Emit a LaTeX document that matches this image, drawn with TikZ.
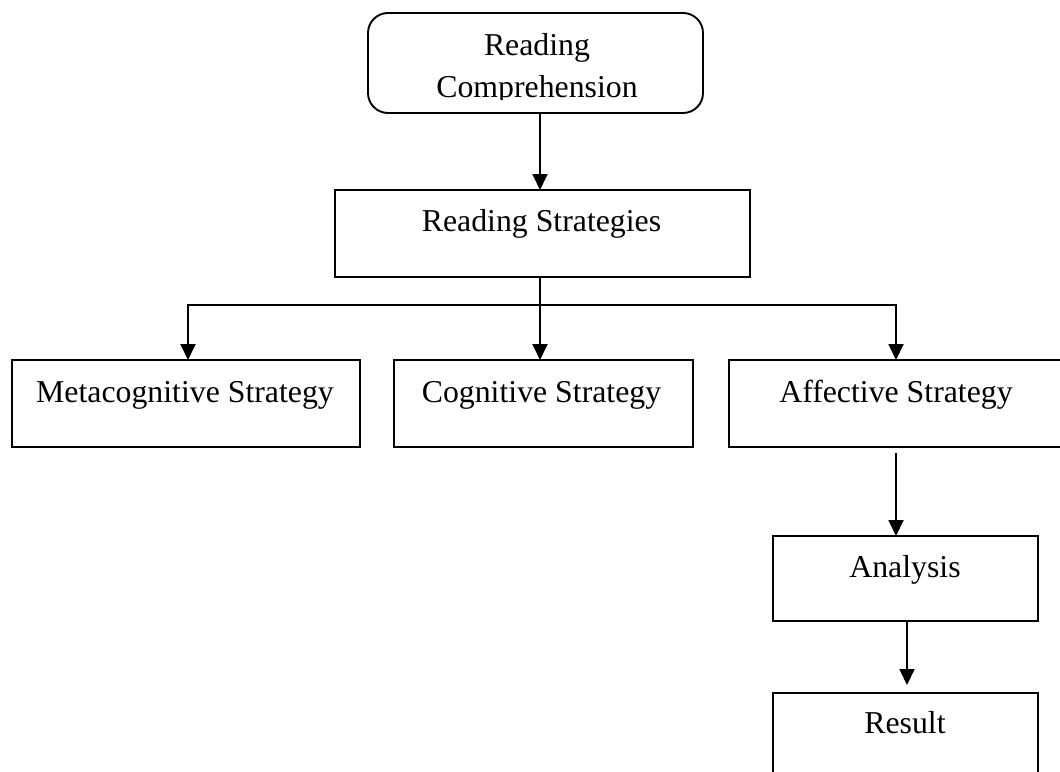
\documentclass[tikz,border=0pt]{standalone}
\usepackage{fontspec}
\setmainfont{Liberation Serif}
\usetikzlibrary{arrows.meta}
\begin{document}
\begin{tikzpicture}[x=1pt,y=-1pt,
 box/.style={draw, line width=1.9pt, inner sep=0pt, outer sep=0pt, anchor=north west},
 lbl/.style={anchor=base, inner sep=0pt, font=\fontsize{31.8}{42}\selectfont},
 conn/.style={line width=1.9pt},
 arr/.style={line width=1.9pt, -{Triangle[length=16pt,width=15pt]}}]
\useasboundingbox (0,0) rectangle (1060,771);
% boxes
\node[box, rounded corners=20pt, minimum width=335pt, minimum height=100pt] (rc) at (368,13) {};
\node[box, minimum width=415pt, minimum height=87pt] (rs) at (335,190) {};
\node[box, minimum width=348pt, minimum height=87pt] (meta) at (12,360) {};
\node[box, minimum width=299pt, minimum height=87pt] (cog) at (394,360) {};
\node[box, minimum width=335pt, minimum height=87pt] (aff) at (729,360) {};
\node[box, minimum width=265pt, minimum height=85pt] (ana) at (773,536) {};
\node[box, minimum width=265pt, minimum height=90pt] (res) at (773,693) {};
% texts
\node[lbl] (rc1) at (537,55) {Reading};
\begin{scope}
\clip (368,13) rectangle (703,99);
\node[lbl] (rc2) at (537,97) {Comprehension};
\end{scope}
\node[lbl] (rst) at (541.5,231) {Reading Strategies};
\node[lbl] (metat) at (185,402) {Metacognitive Strategy};
\node[lbl] (cogt) at (541.5,402) {Cognitive Strategy};
\node[lbl] (afft) at (896,402) {Affective Strategy};
\node[lbl] (anat) at (905,577) {Analysis};
\node[lbl] (rest) at (905,733) {Result};
% connectors
\coordinate (x1) at (540,0);
\draw[arr] (x1 |- rc.south) -- (x1 |- rs.north);
\coordinate (bus) at (540,305);
\draw[conn] (x1 |- rs.south) -- (bus);
\coordinate (mtop) at (188,360);
\coordinate (atop) at (896,360);
\draw[arr] (bus) -| (mtop);
\draw[arr] (bus) -| (atop);
\draw[arr] (bus) -- (bus |- cog.north);
\coordinate (a1) at (896,453);
\draw[arr] (a1) -- (a1 |- ana.north);
\coordinate (a2) at (907,685);
\draw[arr] (a2 |- ana.south) -- (a2);
\end{tikzpicture}
\end{document}
